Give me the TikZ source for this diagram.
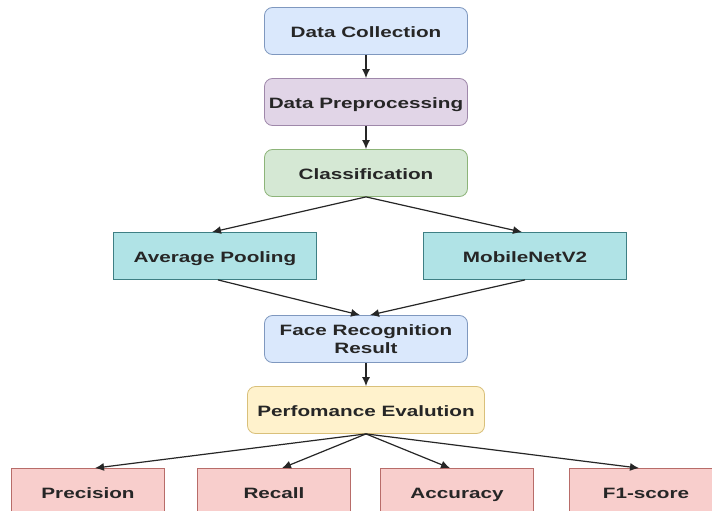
\documentclass[tikz,border=0pt]{standalone}
\usepackage{fontspec}
\usetikzlibrary{arrows.meta}
\newfontfamily\boxfont[FakeStretch=1.38]{Liberation Sans}
\definecolor{bluefill}{HTML}{DAE8FC}
\definecolor{blueline}{HTML}{7F98BF}
\definecolor{purplefill}{HTML}{E1D5E7}
\definecolor{purpleline}{HTML}{9F88AA}
\definecolor{greenfill}{HTML}{D5E8D4}
\definecolor{greenline}{HTML}{8DB479}
\definecolor{tealfill}{HTML}{B0E3E6}
\definecolor{tealline}{HTML}{3E7F84}
\definecolor{yellowfill}{HTML}{FFF2CC}
\definecolor{yellowline}{HTML}{D9C07A}
\definecolor{redfill}{HTML}{F8CECC}
\definecolor{redline}{HTML}{B86C69}
\begin{document}
\begin{tikzpicture}[x=1pt,y=-1pt,
  boxbase/.style={draw, line width=0.8pt, minimum width=203pt, minimum height=47pt, inner sep=0pt,
    align=center, text=black!85, font=\boxfont\bfseries\fontsize{15}{18}\selectfont},
  box/.style={boxbase, text height=13pt, text depth=0pt},
  rbox/.style={box, rounded corners=8pt},
  arr/.style={->,>={Latex[length=9pt,width=8pt]}, line width=1.2pt, black!85}]
\useasboundingbox (0,0) rectangle (712,511);
\fill[white] (0,0) rectangle (712,511);
% pipeline
\node[rbox, fill=bluefill, draw=blueline] (collect) at (366,31) {Data Collection};
\node[rbox, fill=purplefill, draw=purpleline] (prep) at (366,102) {Data Preprocessing};
\node[rbox, fill=greenfill, draw=greenline] (classif) at (366,173) {Classification};
\node[box, fill=tealfill, draw=tealline] (avgpool) at (215,256) {Average Pooling};
\node[box, fill=tealfill, draw=tealline] (mobnet) at (525,256) {MobileNetV2};
\node[boxbase, rounded corners=8pt, fill=bluefill, draw=blueline] (result) at (366,339) {Face Recognition\\Result};
\node[rbox, fill=yellowfill, draw=yellowline, minimum width=237pt] (perf) at (366,410) {Perfomance Evalution};
% metrics
\node[box, fill=redfill, draw=redline, minimum width=153pt] (prec) at (88,492) {Precision};
\node[box, fill=redfill, draw=redline, minimum width=153pt] (recall) at (274,492) {Recall};
\node[box, fill=redfill, draw=redline, minimum width=153pt] (acc) at (457,492) {Accuracy};
\node[box, fill=redfill, draw=redline, minimum width=153pt] (fone) at (646,492) {F1-score};
\draw[arr] (collect) -- (prep);
\draw[arr] (prep) -- (classif);
\draw[arr] (classif.south) -- ([xshift=-3pt]avgpool.north);
\draw[arr] (classif.south) -- ([xshift=-3pt]mobnet.north);
\draw[arr] ([xshift=3pt]avgpool.south) -- ([xshift=-6pt]result.north);
\draw[arr] (mobnet.south) -- ([xshift=4pt]result.north);
\draw[arr] (result) -- (perf);
\draw[arr] (perf.south) -- ([xshift=7pt]prec.north);
\draw[arr] (perf.south) -- ([xshift=8pt]recall.north);
\draw[arr] (perf.south) -- ([xshift=-7pt]acc.north);
\draw[arr] (perf.south) -- ([xshift=-7pt]fone.north);
\end{tikzpicture}
\end{document}
